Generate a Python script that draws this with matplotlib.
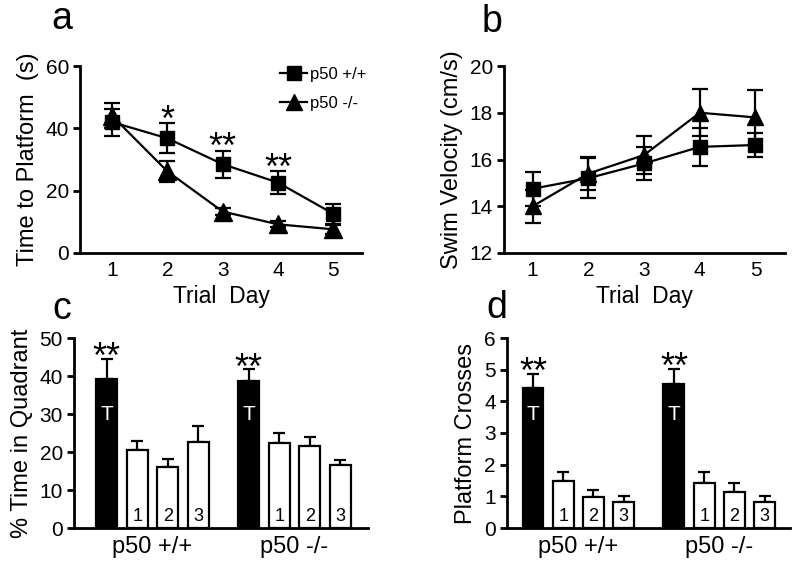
import matplotlib
matplotlib.use("Agg")
import matplotlib.pyplot as plt
import numpy as np
from matplotlib.lines import Line2D

plt.rcParams['font.family'] = ['Liberation Sans', 'DejaVu Sans']

# ---------------- data ----------------
days = [1, 2, 3, 4, 5]
# panel a: time to platform (s)
a_wt = [42.0, 36.8, 28.5, 22.6, 12.6]
a_wt_err = [4.3, 4.8, 4.3, 3.6, 3.2]
a_ko = [44.0, 26.2, 13.3, 9.2, 7.6]
a_ko_err = [4.0, 3.3, 1.0, 1.0, 1.5]
a_sig = ['', '*', '**', '**', '']

# panel b: swim velocity (cm/s)
b_wt = [14.75, 15.2, 15.83, 16.54, 16.62]
b_wt_err = [0.72, 0.85, 0.72, 0.81, 0.52]
b_ko = [14.0, 15.4, 16.19, 18.0, 17.8]
b_ko_err = [0.7, 0.7, 0.82, 1.0, 1.17]

group_labels = ['p50 +/+', 'p50 -/-']
quadrant_labels = ['T', '1', '2', '3']

# panel c: % time in quadrant
c_wt = [39.2, 20.6, 16.0, 22.6]
c_wt_err = [5.3, 2.4, 2.2, 4.2]
c_ko = [38.8, 22.5, 21.7, 16.5]
c_ko_err = [3.0, 2.5, 2.2, 1.3]

# panel d: platform crosses
d_wt = [4.42, 1.49, 0.98, 0.82]
d_wt_err = [0.45, 0.28, 0.21, 0.2]
d_ko = [4.56, 1.41, 1.15, 0.83]
d_ko_err = [0.46, 0.36, 0.27, 0.19]
bar_sig = ['**', '', '', '']

W, H = 800, 568
fig = plt.figure(figsize=(W / 100, H / 100), dpi=100)


def ax_px(left, right, top, bottom):
    return fig.add_axes([left / W, (H - bottom) / H, (right - left) / W, (bottom - top) / H])


FS = 15
YLFS = 17
LW = 1.6
STARFS = 26


def style(ax):
    for s in ['top', 'right']:
        ax.spines[s].set_visible(False)
    for s in ['left', 'bottom']:
        ax.spines[s].set_linewidth(2.0)
    ax.tick_params(axis='y', direction='out', length=5, width=2.0, labelsize=FS, pad=3)
    ax.tick_params(axis='x', length=0, labelsize=FS, pad=6)


# ---------- panel a ----------
ax = ax_px(80, 362, 66, 253)
style(ax)
ax.errorbar(days, a_wt, yerr=a_wt_err, color='black', marker='s', markersize=10,
            lw=LW, capsize=5.5, capthick=LW, elinewidth=LW, zorder=3)
ax.errorbar(days, a_ko, yerr=a_ko_err, color='black', marker='^', markersize=13,
            lw=LW, capsize=5.5, capthick=LW, elinewidth=LW, zorder=3)
ax.set_xlim(0.42, 5.52)
ax.set_ylim(0, 60)
ax.set_yticks([0, 20, 40, 60])
ax.set_xticks(days)
ax.set_ylabel('Time to Platform  (s)', fontsize=YLFS, labelpad=5)
ax.set_xlabel('Trial  Day', fontsize=16.5, labelpad=3)
for d, v, e, s in zip(days, a_wt, a_wt_err, a_sig):
    if s:
        ax.text(d, v + e - 5.0, s, ha='center', va='bottom', fontsize=STARFS)
handles = [Line2D([], [], color='black', marker='s', markersize=10, lw=LW),
           Line2D([], [], color='black', marker='^', markersize=12, lw=LW)]
ax.legend(handles, group_labels, loc='upper right', bbox_to_anchor=(1.05, 1.05),
          frameon=False, fontsize=12, handlelength=1.6, handletextpad=0.15,
          labelspacing=0.85, borderaxespad=0.2)
fig.text(62 / W, 1 - 19 / H, 'a', fontsize=27, ha='center', va='center')

# ---------- panel b ----------
ax = ax_px(504, 785, 66, 253)
style(ax)
ax.errorbar(days, b_ko, yerr=b_ko_err, color='black', marker='^', markersize=12,
            lw=LW, capsize=5.5, capthick=LW, elinewidth=LW, zorder=3)
ax.errorbar(days, b_wt, yerr=b_wt_err, color='black', marker='s', markersize=10,
            lw=LW, capsize=5.5, capthick=LW, elinewidth=LW, zorder=3)
ax.set_xlim(0.485, 5.53)
ax.set_ylim(12, 20)
ax.set_yticks([12, 14, 16, 18, 20])
ax.set_xticks(days)
ax.set_ylabel('Swim Velocity (cm/s)', fontsize=YLFS, labelpad=5)
ax.set_xlabel('Trial  Day', fontsize=16.5, labelpad=3)
fig.text(492 / W, 1 - 22 / H, 'b', fontsize=27, ha='center', va='center')


# ---------- bar panels ----------
def bar_panel(ax, wt, wt_err, ko, ko_err, ylim, yticks, ylabel, xlim, tlabel_y, nlabel_y, star_off):
    style(ax)
    offset = 4.66
    xs = list(np.arange(4)) + list(np.arange(4) + offset)
    vals = list(wt) + list(ko)
    errs = list(wt_err) + list(ko_err)
    colors = ['black', 'white', 'white', 'white'] * 2
    ax.bar(xs, vals, width=0.69, color=colors, edgecolor='black', linewidth=1.6, zorder=2)
    ax.errorbar(xs, vals, yerr=[np.zeros(len(errs)), errs], fmt='none', ecolor='black',
                elinewidth=1.6, capsize=4.5, capthick=1.6, zorder=1)
    labs = quadrant_labels * 2
    for x, v, lab in zip(xs, vals, labs):
        if lab == 'T':
            ax.text(x, tlabel_y, lab, color='white', ha='center', va='center', fontsize=15)
        else:
            ax.text(x, nlabel_y, lab, color='black', ha='center', va='center', fontsize=13)
    sigs = bar_sig * 2
    for x, v, e, s in zip(xs, vals, errs, sigs):
        if s:
            ax.text(x, v + e + star_off, s, ha='center', va='bottom', fontsize=STARFS)
    ax.set_xlim(*xlim)
    ax.set_ylim(*ylim)
    ax.set_yticks(yticks)
    ax.set_xticks([1.5, 1.5 + offset])
    ax.set_xticklabels(group_labels, fontsize=17)
    ax.set_ylabel(ylabel, fontsize=YLFS, labelpad=5)


ax = ax_px(74, 368, 338, 528)
bar_panel(ax, c_wt, c_wt_err, c_ko, c_ko_err, (0, 50), [0, 10, 20, 30, 40, 50],
          '% Time in Quadrant', (-1.07, 8.57), 29.8, 3.1, -4.6)
fig.text(62 / W, 1 - 309 / H, 'c', fontsize=27, ha='center', va='center')

ax = ax_px(507, 790, 338, 528)
bar_panel(ax, d_wt, d_wt_err, d_ko, d_ko_err, (0, 6), [0, 1, 2, 3, 4, 5, 6],
          'Platform Crosses', (-0.86, 8.5), 3.6, 0.37, -0.55)
fig.text(497 / W, 1 - 308 / H, 'd', fontsize=27, ha='center', va='center')

fig.savefig('out.png', dpi=100, facecolor='white')
